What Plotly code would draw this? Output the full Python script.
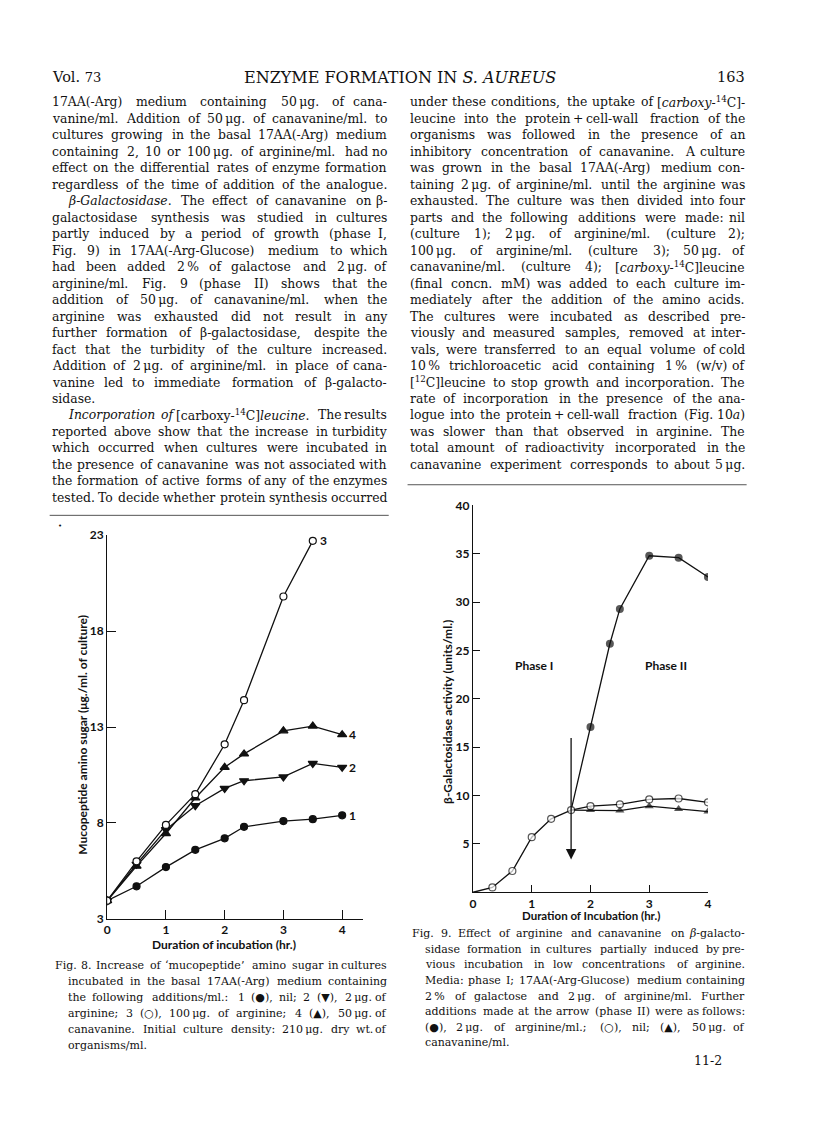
import re
import plotly.graph_objects as go

# ── Page geometry ─────────────────────────────────────────────────────────────
W, H = 816, 1138
INK = "#111111"
SERIF = "DejaVu Serif"
SANS = "Lato"


def px(x):
    return x / W


def py(y):
    return 1 - y / H


# ── Fig. 8 data: mucopeptide amino sugar (ug/ml) vs hours ─────────────────────
hours8 = [0, 0.5, 1, 1.5, 2, 2.33, 3, 3.5, 4]
nil_1 = [3.95, 4.7, 5.7, 6.6, 7.2, 7.8, 8.1, 8.2, 8.4]
arg2_2 = [3.95, 5.85, 7.65, 8.9, 9.8, 10.2, 10.4, 11.1, 10.9]
hours8_3 = [0, 0.5, 1, 1.5, 2, 2.33, 3, 3.5]
arg100_3 = [3.95, 6.0, 7.9, 9.5, 12.1, 14.4, 19.8, 22.7]
cana_4 = [3.95, 5.75, 7.45, 9.3, 10.9, 11.6, 12.8, 13.05, 12.6]
ticks8_y = [3, 8, 13, 18, 23]
ticks8_x = [0, 1, 2, 3, 4]

# ── Fig. 9 data: beta-galactosidase (units/ml) vs hours ───────────────────────
hours9_nil = [0, 0.33, 0.67, 1.0, 1.33, 1.67, 2.0, 2.5, 3.0, 3.5, 4.0]
gal_nil = [0, 0.5, 2.2, 5.7, 7.6, 8.5, 8.9, 9.1, 9.6, 9.7, 9.3]
hours9_arg = [1.67, 2.0, 2.33, 2.5, 3.0, 3.5, 4.0]
gal_arg = [8.5, 17.1, 25.7, 29.3, 34.8, 34.6, 32.6]
hours9_cana = [1.67, 2.0, 2.5, 3.0, 3.5, 4.0]
gal_cana = [8.5, 8.5, 8.45, 8.9, 8.6, 8.35]
ticks9_y = [5, 10, 15, 20, 25, 30, 35, 40]
ticks9_x = [0, 1, 2, 3, 4]
arrow_x, arrow_top, arrow_tip = 1.67, 16.1, 3.4

# ── Page text ─────────────────────────────────────────────────────────────────
MU = "\u2009\u03bcg."
left_lines = [
    f"17AA(-Arg) medium containing 50{MU} of cana-",
    f"vanine/ml. Addition of 50{MU} of canavanine/ml. to",
    "cultures growing in the basal 17AA(-Arg) medium",
    f"containing 2, 10 or 100{MU} of arginine/ml. had no",
    "effect on the differential rates of enzyme formation",
    "regardless of the time of addition of the analogue.",
    "<i>\u03b2-Galactosidase</i>. The effect of canavanine on \u03b2-",
    "galactosidase synthesis was studied in cultures",
    "partly induced by a period of growth (phase I,",
    "Fig. 9) in 17AA(-Arg-Glucose) medium to which",
    f"had been added 2\u2009% of galactose and 2{MU} of",
    "arginine/ml. Fig. 9 (phase II) shows that the",
    f"addition of 50{MU} of canavanine/ml. when the",
    "arginine was exhausted did not result in any",
    "further formation of \u03b2-galactosidase, despite the",
    "fact that the turbidity of the culture increased.",
    f"Addition of 2{MU} of arginine/ml. in place of cana-",
    "vanine led to immediate formation of \u03b2-galacto-",
    "sidase.",
    "<i>Incorporation</i> <i>of</i> [carboxy-<sup>14</sup>C]<i>leucine</i>. The results",
    "reported above show that the increase in turbidity",
    "which occurred when cultures were incubated in",
    "the presence of canavanine was not associated with",
    "the formation of active forms of any of the enzymes",
    "tested. To decide whether protein synthesis occurred",
]
left_indent = {6, 19}
left_ragged = {18}

right_lines = [
    "under these conditions, the uptake of [<i>carboxy</i>-<sup>14</sup>C]-",
    "leucine into the protein\u2009+\u2009cell-wall fraction of the",
    "organisms was followed in the presence of an",
    "inhibitory concentration of canavanine. A culture",
    "was grown in the basal 17AA(-Arg) medium con-",
    f"taining 2{MU} of arginine/ml. until the arginine was",
    "exhausted. The culture was then divided into four",
    "parts and the following additions were made: nil",
    f"(culture 1); 2{MU} of arginine/ml. (culture 2);",
    f"100{MU} of arginine/ml. (culture 3); 50{MU} of",
    "canavanine/ml. (culture 4); [<i>carboxy</i>-<sup>14</sup>C]leucine",
    "(final concn. mM) was added to each culture im-",
    "mediately after the addition of the amino acids.",
    "The cultures were incubated as described pre-",
    "viously and measured samples, removed at inter-",
    "vals, were transferred to an equal volume of cold",
    "10\u2009% trichloroacetic acid containing 1\u2009% (w/v) of",
    "[<sup>12</sup>C]leucine to stop growth and incorporation. The",
    "rate of incorporation in the presence of the ana-",
    "logue into the protein\u2009+\u2009cell-wall fraction (Fig. 10<i>a</i>)",
    "was slower than that observed in arginine. The",
    "total amount of radioactivity incorporated in the",
    f"canavanine experiment corresponds to about 5{MU}",
]

cap8_lines = [
    "Fig. 8. Increase of \u2018mucopeptide\u2019 amino sugar in cultures",
    "incubated in the basal 17AA(-Arg) medium containing",
    f"the following additions/ml.: 1 (\u25cf), nil; 2 (\u25bc), 2{MU} of",
    f"arginine; 3 (\u25cb), 100{MU} of arginine; 4 (\u25b2), 50{MU} of",
    f"canavanine. Initial culture density: 210{MU} dry wt. of",
    "organisms/ml.",
]

cap9_lines = [
    "Fig. 9. Effect of arginine and canavanine on <i>\u03b2</i>-galacto-",
    "sidase formation in cultures partially induced by pre-",
    "vious incubation in low concentrations of arginine.",
    "Media: phase I; 17AA(-Arg-Glucose) medium containing",
    f"2\u2009% of galactose and 2{MU} of arginine/ml. Further",
    "additions made at the arrow (phase II) were as follows:",
    f"(\u25cf), 2{MU} of arginine/ml.; (\u25cb), nil; (\u25b2), 50{MU} of",
    "canavanine/ml.",
]

# ── Rough advance widths (em) for justifying the serif text ──────────────────
CHW = dict(a=.60, b=.64, c=.56, d=.64, e=.59, f=.37, g=.64, h=.64, i=.32, j=.31,
           k=.60, l=.32, m=.95, n=.64, o=.60, p=.64, q=.64, r=.48, s=.51, t=.40,
           u=.64, v=.57, w=.85, x=.56, y=.57, z=.53)
CHW.update({" ": .32, ".": .32, ",": .32, ";": .34, ":": .34, "(": .39, ")": .39,
            "[": .39, "]": .39, "-": .34, "/": .34, "%": .95, "+": .84,
            "\u2018": .32, "\u2019": .32, "\u03bc": .64, "\u03b2": .64,
            "\u2009": .2, "\u25cf": .75, "\u25cb": .85, "\u25b2": .85, "\u25bc": .85,
            "I": .40, "M": .92, "W": 1.0})
WIDTH_FUDGE = 1.05


def est_width(word, size):
    total, scale = 0.0, 1.0
    for part in re.split(r"(<[^>]+>)", word):
        if part.startswith("<"):
            scale = 0.7 if part == "<sup>" else (1.0 if part == "</sup>" else scale)
            continue
        for ch in part:
            if ch in CHW:
                w = CHW[ch]
            elif ch.isdigit():
                w = .64
            elif ch.isupper():
                w = .72
            else:
                w = .6
            total += w * scale
    return total * size * WIDTH_FUDGE


# ── Figure ────────────────────────────────────────────────────────────────────
fig = go.Figure()

line_style = dict(color=INK, width=1.3)


def marker(symbol, filled, size=7):
    return dict(
        symbol=symbol, size=size,
        color=INK if filled else "white",
        line=dict(color=INK, width=1.2),
    )


# Fig. 8 traces (axes x / y)
fig.add_trace(go.Scatter(x=hours8, y=nil_1, mode="lines+markers",
                         line=line_style, marker=marker("circle", True),
                         xaxis="x", yaxis="y"))
fig.add_trace(go.Scatter(x=hours8, y=arg2_2, mode="lines+markers",
                         line=line_style, marker=marker("triangle-down", True, 8),
                         xaxis="x", yaxis="y"))
fig.add_trace(go.Scatter(x=hours8, y=cana_4, mode="lines+markers",
                         line=line_style, marker=marker("triangle-up", True, 8),
                         xaxis="x", yaxis="y"))
fig.add_trace(go.Scatter(x=hours8_3, y=arg100_3, mode="lines+markers",
                         line=line_style, marker=marker("circle", False),
                         xaxis="x", yaxis="y"))

# Fig. 9 traces (axes x2 / y2)
fig.add_trace(go.Scatter(x=hours9_cana, y=gal_cana, mode="lines+markers",
                         line=line_style,
                         marker=dict(symbol="triangle-up", color=INK, line=dict(width=0),
                                     size=[0] + [8] * (len(gal_cana) - 1)),
                         xaxis="x2", yaxis="y2"))
fig.add_trace(go.Scatter(x=hours9_arg, y=gal_arg, mode="lines+markers",
                         line=line_style,
                         marker=dict(symbol="circle", color=INK, line=dict(width=0),
                                     size=[0] + [8] * (len(gal_arg) - 1)),
                         xaxis="x2", yaxis="y2"))
fig.add_trace(go.Scatter(x=hours9_nil, y=gal_nil, mode="lines+markers",
                         line=line_style,
                         marker=dict(symbol="circle", color="white",
                                     line=dict(color=INK, width=1.2),
                                     size=[0] + [7] * (len(gal_nil) - 1)),
                         xaxis="x2", yaxis="y2"))

axis_common = dict(
    showline=True, linecolor=INK, linewidth=1.3, showgrid=False, zeroline=False,
    ticks="inside", tickcolor=INK, tickwidth=1.3,
    tickfont=dict(family=SANS, size=12, color=INK, weight="bold"),
)

fig.update_layout(
    width=W, height=H,
    margin=dict(l=0, r=0, t=0, b=0),
    paper_bgcolor="white", plot_bgcolor="rgba(0,0,0,0)",
    showlegend=False,
    xaxis=dict(axis_common, domain=[px(97), px(355)], range=[0, 4.354],
               tickvals=ticks8_x, ticklen=9, anchor="y"),
    yaxis=dict(axis_common, domain=[py(915), py(526)], range=[3, 23],
               tickvals=ticks8_y, ticklen=9, anchor="x"),
    xaxis2=dict(axis_common, domain=[px(466), px(703)], range=[0, 4],
                tickvals=ticks9_x, ticklen=7, anchor="y2"),
    yaxis2=dict(axis_common, domain=[py(888), py(496)], range=[0, 40],
                tickvals=ticks9_y, ticklen=7, anchor="x2"),
)

ann = []


def text(x, y, s, size=12, family=SERIF, xanchor="left", angle=0, weight="normal"):
    ann.append(dict(
        x=px(x), y=py(y), xref="paper", yref="paper", text=s, showarrow=False,
        xanchor=xanchor, yanchor="middle", textangle=angle,
        font=dict(family=family, size=size, color=INK, weight=weight),
    ))


def set_line(s, x0, x1, y, size, justify=True):
    """Place one line of type; justified lines are spread word by word."""
    words = s.split(" ")
    if not justify or len(words) == 1:
        text(x0, y, s, size=size)
        return
    widths = [est_width(w, size) for w in words]
    gap = (x1 - x0 - sum(widths)) / (len(words) - 1)
    x = x0
    for k, (w, wd) in enumerate(zip(words, widths)):
        if k == len(words) - 1:
            text(x1, y, w, size=size, xanchor="right")
        else:
            text(x, y, w, size=size)
        x += wd + gap


# Running head
text(39, 62, "Vol. <span style='font-size:13px'>73</span>", size=14.5)
text(392, 62, "ENZYME FORMATION IN <i>S. AUREUS</i>", size=16, xanchor="center")
text(742, 62, "163", size=14.5, xanchor="right")

# Body text (two justified columns)
BODY, LEAD, TOP = 12.4, 16.7, 87
for i, s in enumerate(left_lines):
    set_line(s, 39 + (16 if i in left_indent else 0), 381, TOP + LEAD * i, BODY,
             justify=i not in left_ragged)
for i, s in enumerate(right_lines):
    set_line(s, 400, 742, TOP + LEAD * i, BODY)

# Captions (hanging indent)
CAP = 11.0
for i, s in enumerate(cap8_lines):
    set_line(s, 42 if i == 0 else 55, 381, 962 + 16.2 * i, CAP,
             justify=i < len(cap8_lines) - 1)
for i, s in enumerate(cap9_lines):
    set_line(s, 402 if i == 0 else 416, 742, 930 + 15.8 * i, CAP,
             justify=i < len(cap9_lines) - 1)
text(703, 1058, "11-2", size=12.5, xanchor="center")

# Fig. 8 axis titles and curve labels
text(215, 941, "Duration of incubation (hr.)", size=12, family=SANS, xanchor="center",
     weight="bold")
text(72, 728, "Mucopeptide amino sugar (\u03bcg./ml. of culture)", size=12, family=SANS,
     xanchor="center", angle=-90, weight="bold")
text(45, 517, "\u2022", size=7)

for xs, ys, lab in [(hours8_3, arg100_3, "3"), (hours8, cana_4, "4"),
                    (hours8, arg2_2, "2"), (hours8, nil_1, "1")]:
    ann.append(dict(x=xs[-1], y=ys[-1], xref="x", yref="y", text=lab, showarrow=False,
                    xanchor="left", xshift=5,
                    font=dict(family=SANS, size=12, color=INK, weight="bold")))

# Fig. 9 axis titles, phase labels and arrow
text(585, 912, "Duration of Incubation (hr.)", size=11.5, family=SANS, xanchor="center",
     weight="bold")
text(440, 705, "\u03b2-Galactosidase activity (units/ml.)", size=12, family=SANS,
     xanchor="center", angle=-90, weight="bold")
ann.append(dict(x=1.03, y=23.5, xref="x2", yref="y2", text="Phase I", showarrow=False,
                font=dict(family=SANS, size=12, color=INK, weight="bold")))
ann.append(dict(x=3.28, y=23.5, xref="x2", yref="y2", text="Phase II", showarrow=False,
                font=dict(family=SANS, size=12, color=INK, weight="bold")))
ann.append(dict(x=arrow_x, y=arrow_tip, ax=arrow_x, ay=arrow_top,
                xref="x2", yref="y2", axref="x2", ayref="y2", text="",
                showarrow=True, arrowhead=2, arrowsize=1.6, arrowwidth=1.3,
                arrowcolor=INK))

fig.update_layout(annotations=ann)

# Column rules above the figures
fig.add_shape(type="line", xref="paper", yref="paper",
              x0=px(39), x1=px(381), y0=py(506), y1=py(506),
              line=dict(color="#555", width=1))
fig.add_shape(type="line", xref="paper", yref="paper",
              x0=px(400), x1=px(742), y0=py(475), y1=py(475),
              line=dict(color="#555", width=1))

fig.write_html("out.html")
